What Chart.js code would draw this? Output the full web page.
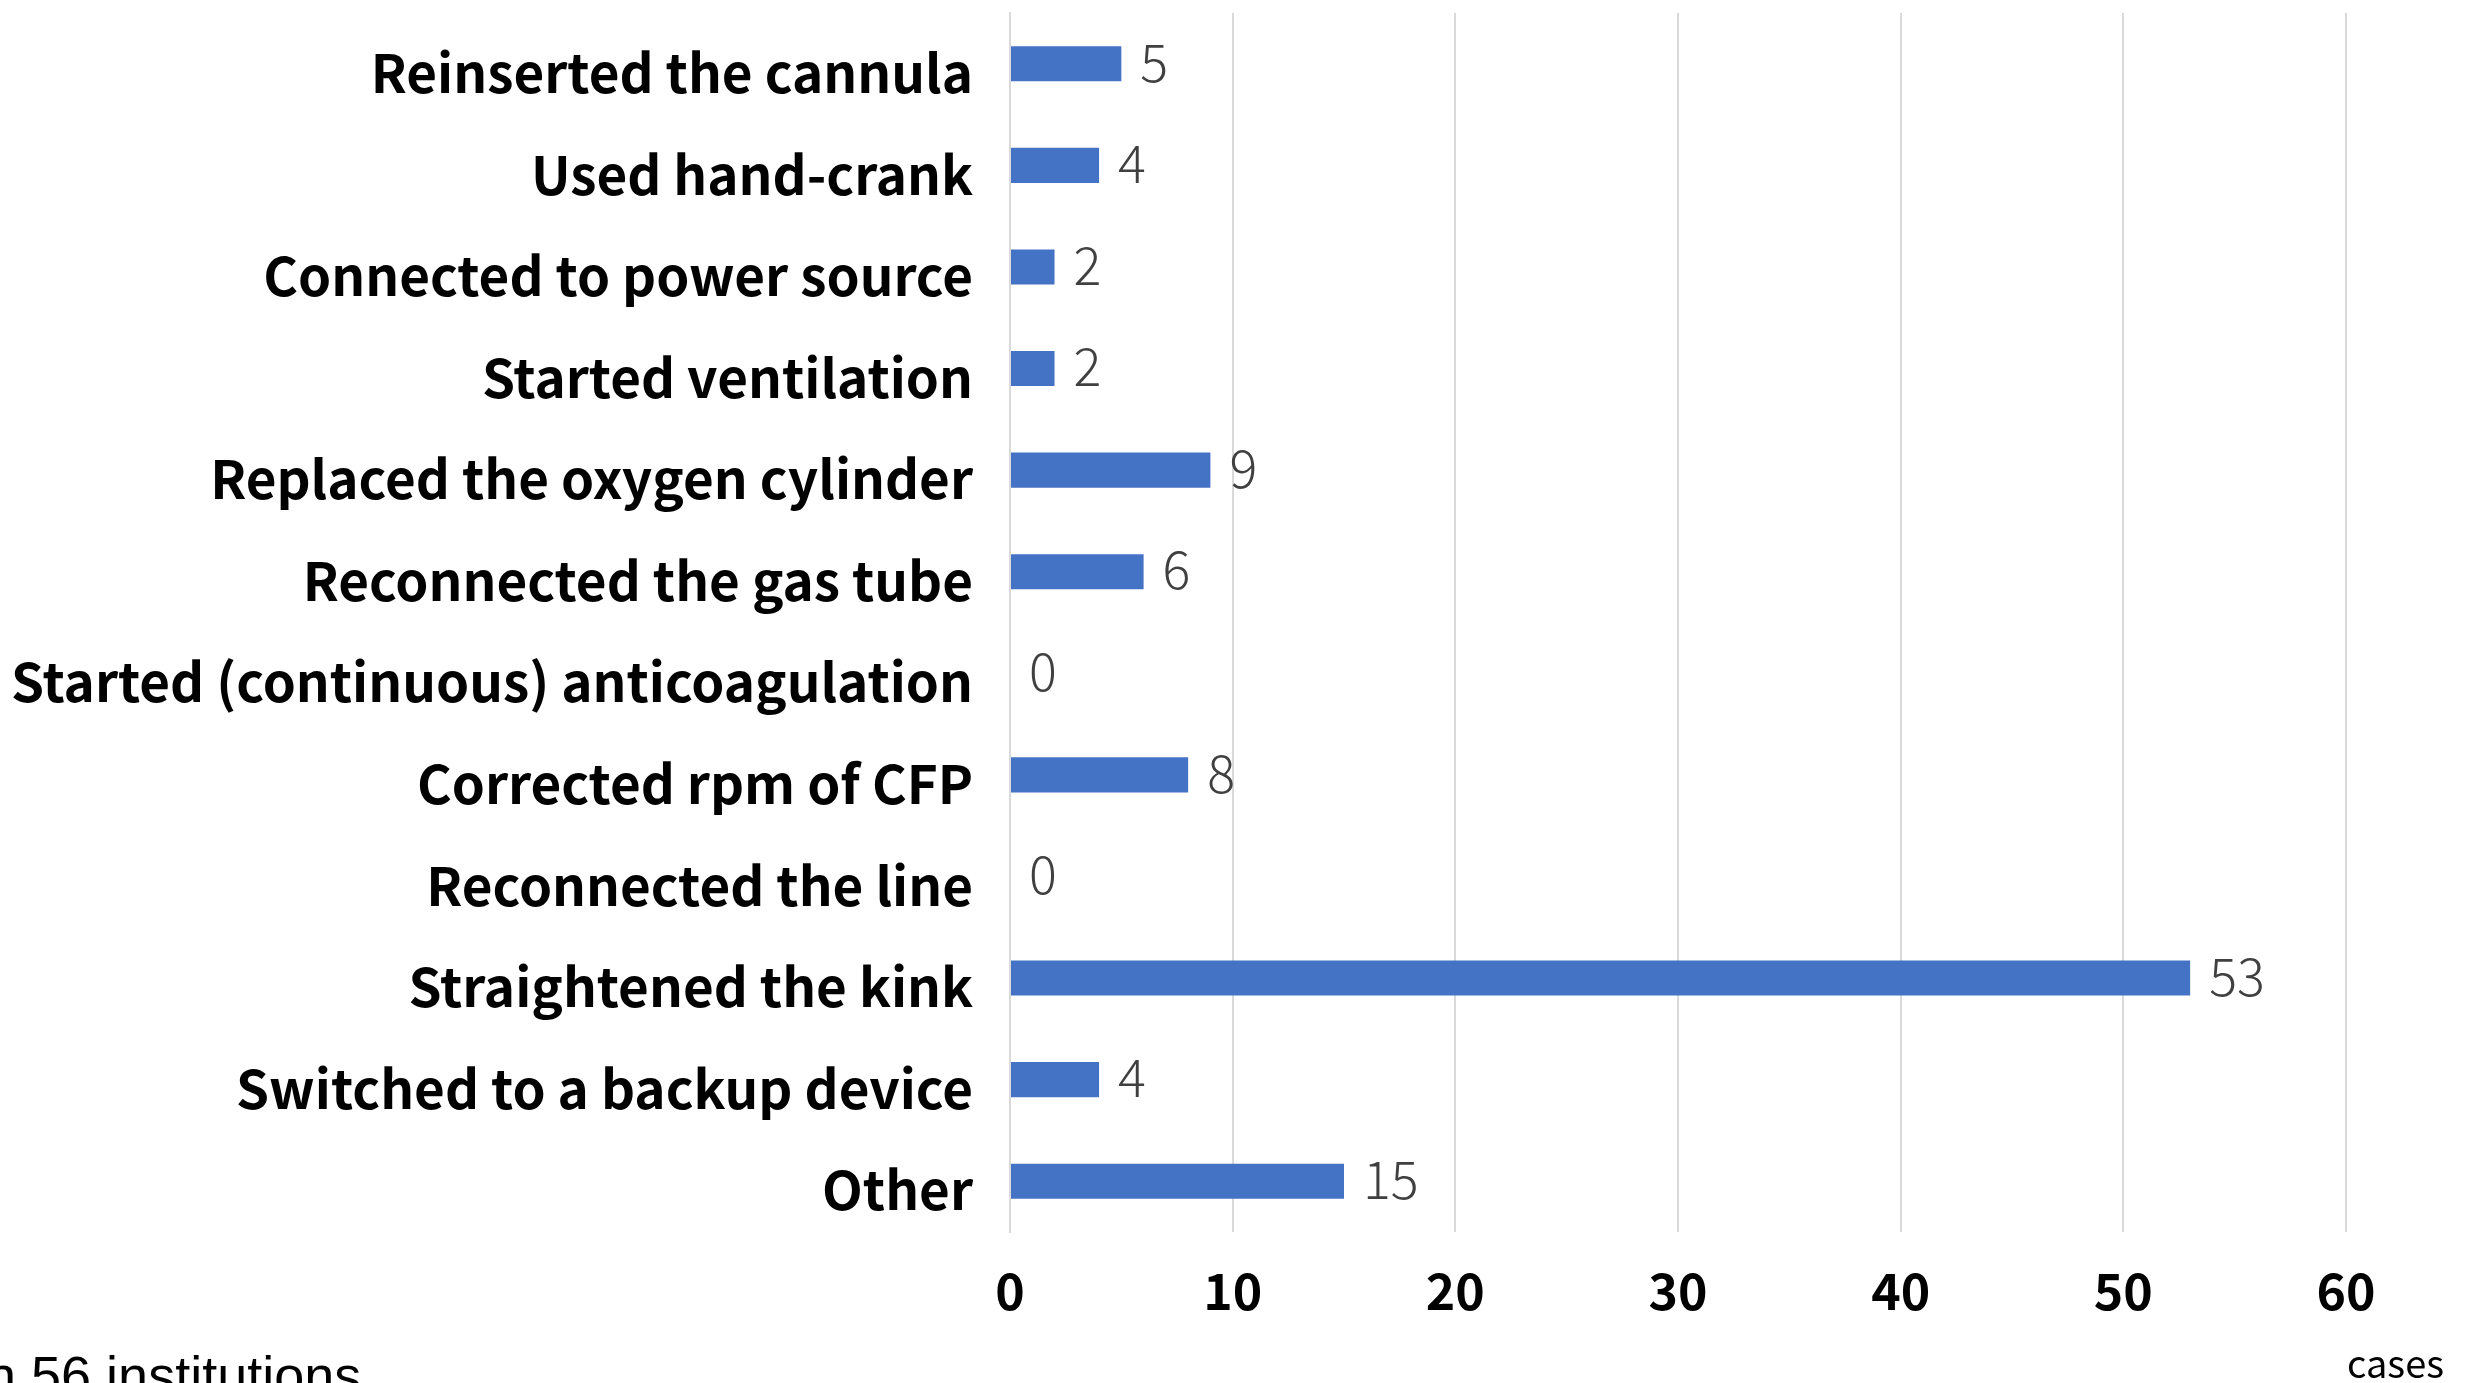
<!DOCTYPE html>
<html>
<head>
<meta charset="utf-8">
<script src="https://cdn.jsdelivr.net/npm/chart.js@4.4.1/dist/chart.umd.min.js"></script>
<style>
html,body{margin:0;padding:0;background:#fff;overflow:hidden;}
#wrap{position:relative;width:2470px;height:1383px;}
canvas{display:block;}
</style>
</head>
<body>
<div id="wrap"><canvas id="c" width="2470" height="1383"></canvas></div>
<script>
const categories = [
  "Reinserted the cannula",
  "Used hand-crank",
  "Connected to power source",
  "Started ventilation",
  "Replaced the oxygen cylinder",
  "Reconnected the gas tube",
  "Started (continuous) anticoagulation",
  "Corrected rpm of CFP",
  "Reconnected the line",
  "Straightened the kink",
  "Switched to a backup device",
  "Other"
];
const cases = [5, 4, 2, 2, 9, 6, 0, 8, 0, 53, 4, 15];
const xTicks = [0, 10, 20, 30, 40, 50, 60];
const unitLabel = "cases";
const noteLabel = "n 56 institutions";

const JP = '"Noto Sans CJK JP", "Noto Sans", sans-serif';

const valueLabels = {
  id: 'valueLabels',
  afterDatasetsDraw(chart) {
    const ctx = chart.ctx;
    const meta = chart.getDatasetMeta(0);
    ctx.save();
    ctx.font = '300 52px ' + JP;
    ctx.fillStyle = '#404040';
    ctx.textAlign = 'left';
    ctx.textBaseline = 'middle';
    meta.data.forEach((bar, i) => {
      ctx.fillText(String(cases[i]), bar.x + 19, bar.y - 2);
    });
    ctx.restore();
  }
};

const extraText = {
  id: 'extraText',
  afterDraw(chart) {
    const ctx = chart.ctx;
    ctx.save();
    ctx.fillStyle = '#000';
    ctx.textBaseline = 'alphabetic';
    ctx.textAlign = 'left';
    ctx.font = '38px ' + JP;
    ctx.fillText(unitLabel, 2347, 1378);
    ctx.font = '54px "Liberation Sans", Arial, sans-serif';
    ctx.fillText(noteLabel, -14, 1394);
    ctx.restore();
  }
};

new Chart(document.getElementById('c'), {
  type: 'bar',
  data: {
    labels: categories,
    datasets: [{
      data: cases,
      backgroundColor: '#4472C4',
      borderWidth: 0,
      categoryPercentage: 1.0,
      barPercentage: 0.345
    }]
  },
  options: {
    indexAxis: 'y',
    responsive: false,
    animation: false,
    devicePixelRatio: 1,
    layout: { padding: { left: 0, right: 124, top: 13, bottom: 0 } },
    plugins: { legend: { display: false }, tooltip: { enabled: false } },
    scales: {
      x: {
        min: 0, max: 60,
        afterBuildTicks(axis) { axis.ticks = xTicks.map(v => ({ value: v })); },
        afterFit(axis) { axis.height = 151; axis.paddingLeft = 0; axis.paddingRight = 0; },
        grid: { color: '#d9d9d9', lineWidth: 2, drawTicks: false },
        border: { display: false },
        ticks: {
          padding: 29,
          color: '#000',
          font: { family: JP, size: 50, weight: 'bold' }
        }
      },
      y: {
        afterFit(axis) { axis.width = 1010; axis.paddingTop = 0; axis.paddingBottom = 0; },
        grid: { display: false, drawTicks: false },
        border: { display: true, color: '#d9d9d9', width: 2 },
        ticks: {
          padding: 37,
          labelOffset: 9,
          color: '#000',
          font: { family: JP, size: 53, weight: 'bold' }
        }
      }
    }
  },
  plugins: [valueLabels, extraText]
});
</script>
</body>
</html>
